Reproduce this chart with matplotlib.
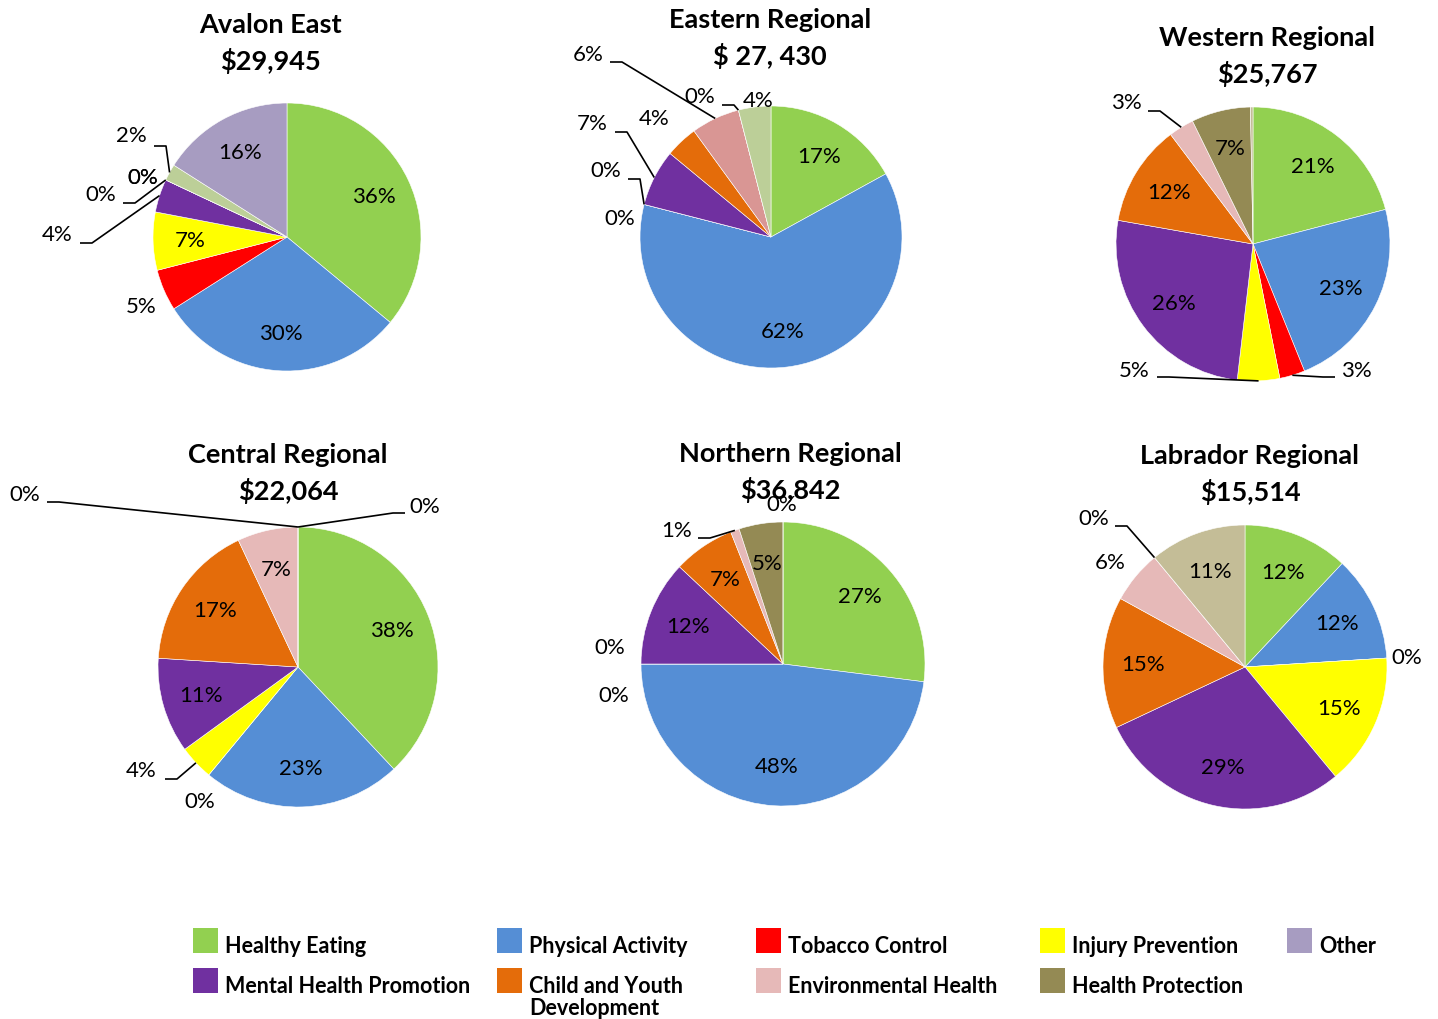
import matplotlib
matplotlib.use("Agg")
import matplotlib.pyplot as plt
from matplotlib.patches import Rectangle
import numpy as np

plt.rcParams['font.family'] = ['Lato', 'DejaVu Sans']

W, H = 1438, 1020

# ---------------- data ----------------
categories = ["Healthy Eating", "Physical Activity", "Tobacco Control", "Injury Prevention",
              "Other", "Mental Health Promotion", "Child and Youth\nDevelopment",
              "Environmental Health", "Health Protection"]
legend_colors = ["#92D050", "#558ED5", "#FF0000", "#FFFF00", "#A79CC1",
                 "#7030A0", "#E46C0A", "#E6B9B8", "#948A54"]

regions = ["Avalon East", "Eastern Regional", "Western Regional",
           "Central Regional", "Northern Regional", "Labrador Regional"]
totals = ["$29,945", "$ 27, 430", "$25,767", "$22,064", "$36,842", "$15,514"]

avalon_east = [36, 30, 5, 7, 4, 0, 0, 0, 2, 16]
eastern = [17, 62, 0, 0, 7, 4, 6, 0, 4]
western = [21, 23, 3, 5, 26, 12, 3, 7, 0.3]
central = [38, 23, 0, 4, 11, 17, 7, 0, 0]
northern = [27, 48, 0, 0, 12, 7, 1, 5, 0]
labrador = [12, 12, 0, 15, 29, 15, 6, 0, 11]

G, B, R, Y, P, O, K, L = "#92D050", "#558ED5", "#FF0000", "#FFFF00", "#7030A0", "#E46C0A", "#E6B9B8", "#948A54"
colors_avalon = [G, B, R, Y, P, O, K, L, "#BCCF98", "#A79CC1"]
colors_eastern = [G, B, R, Y, P, O, "#D99694", L, "#BCCF98"]
colors_western = [G, B, R, Y, P, O, K, L, "#C4BD97"]
colors_central = [G, B, R, Y, P, O, K, L, "#A79CC1"]
colors_northern = [G, B, R, Y, P, O, K, L, "#A79CC1"]
colors_labrador = [G, B, R, Y, P, O, K, L, "#C4BD97"]

all_values = [avalon_east, eastern, western, central, northern, labrador]
all_colors = [colors_avalon, colors_eastern, colors_western,
              colors_central, colors_northern, colors_labrador]

# ---------------- layout (pixel coords, y from top) ----------------
IN = "in"
layout = [
    dict(center=(287, 238), r=134, title=(270, 25),
         labels=[IN, IN, ((141, 307), None), IN, ((57, 235), (80, 244)),
                 ((101, 195), (123, 204)), ((143, 178), None), ((143, 178), None),
                 ((131, 136), (154, 147)), IN]),
    dict(center=(771, 238), r=131, title=(770, 20),
         labels=[IN, IN, ((620, 219), None), ((606, 171), (628, 180)),
                 ((592, 124), (615, 133)), ((654, 119), None), ((588, 55), (610, 63)),
                 ((700, 97), (722, 106)), ((758, 101), None)]),
    dict(center=(1253, 245), r=137, title=(1267, 38),
         labels=[IN, IN, ((1356, 371), (1335, 378)), ((1134, 371), (1157, 378)),
                 IN, IN, ((1126, 103), (1148, 112)), IN, None]),
    dict(center=(298, 668), r=140, title=(288, 455),
         labels=[IN, IN, ((200, 802), None), ((141, 771), (165, 780)), IN, IN, IN,
                 ((425, 507), (405, 514)), ((25, 495), (47, 503))]),
    dict(center=(783, 665), r=142, title=(790, 454),
         labels=[IN, IN, ((614, 696), None), ((610, 648), None), IN, IN,
                 ((677, 531), (698, 539)), IN, ((782, 505), None)]),
    dict(center=(1245, 668), r=142, title=(1250, 456),
         labels=[IN, IN, ((1407, 658), None), IN, IN, IN, ((1110, 563), None),
                 ((1094, 519), (1115, 527)), IN]),
]

fig = plt.figure(figsize=(W / 100, H / 100), dpi=100)
ax = fig.add_axes([0, 0, 1, 1])

def fy(y):
    return H - y

PCT_FS = 16
TITLE_FS = 19.5
for vals, cols, lay, name, tot in zip(all_values, all_colors, layout, regions, totals):
    cx, cy = lay["center"][0], fy(lay["center"][1])
    r = lay["r"]
    wedges, _ = ax.pie(vals, colors=cols, startangle=90, counterclock=False,
                       center=(cx, cy), radius=r, frame=True,
                       wedgeprops=dict(linewidth=0.4, edgecolor="white"))
    for v, w, spec in zip(vals, wedges, lay["labels"]):
        if spec is None:
            continue
        txt = f"{v:.0f}%"
        mid = np.deg2rad((w.theta1 + w.theta2) / 2)
        if spec == IN:
            d = 0.72 * r
            ax.text(cx + d * np.cos(mid), cy + d * np.sin(mid), txt,
                    ha="center", va="center", fontsize=PCT_FS, color="black")
        else:
            (lx, ly), tail = spec
            ax.text(lx, fy(ly), txt, ha="center", va="center",
                    fontsize=PCT_FS, color="black")
            if tail is not None:
                tx, ty = tail
                ex, ey = cx + r * np.cos(mid), cy + r * np.sin(mid)
                elbow_x = tx + (12 if tx < ex else -12)
                ax.plot([tx, elbow_x, ex], [fy(ty), fy(ty), ey],
                        color="black", lw=1.2, solid_capstyle="butt")
    tx, ty = lay["title"]
    ax.text(tx, fy(ty), name, ha="center", va="center", fontsize=TITLE_FS,
            fontweight="bold")
    ax.text(tx, fy(ty + 36), tot, ha="center", va="center", fontsize=TITLE_FS,
            fontweight="bold")

# ---------------- legend ----------------
leg_x = [193, 497, 756, 1040, 1287]
leg_y = [942, 982]
for i, (cat, col) in enumerate(zip(categories, legend_colors)):
    row, colidx = divmod(i, 5)
    px = leg_x[colidx]
    py = leg_y[row]
    ax.add_patch(Rectangle((px, fy(py + 12)), 25, 25, facecolor=col, edgecolor="none"))
    lines = cat.split("\n")
    for j, ln in enumerate(lines):
        ax.text(px + 32, fy(py + 5 + j * 22), ln, ha="left", va="center",
                fontsize=15.5, fontweight="bold")

ax.set_xlim(0, W)
ax.set_ylim(0, H)
ax.set_aspect("auto")
ax.axis("off")

fig.savefig("out.png", dpi=100, facecolor="white")
